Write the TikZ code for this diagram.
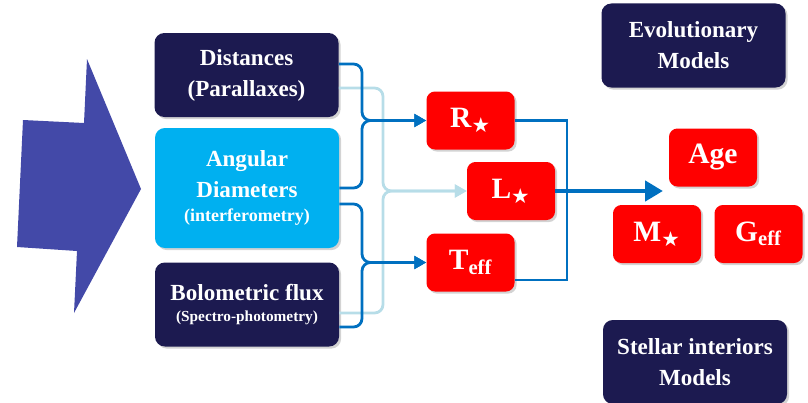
\documentclass[tikz,border=0pt]{standalone}
\usepackage{fontspec}
\setmainfont{Liberation Serif}
\newfontfamily\starfont{DejaVu Sans}
\usetikzlibrary{arrows.meta, positioning, calc, shadows}
\definecolor{navycolor}{RGB}{28,26,80}
\definecolor{cyancolor}{RGB}{0,176,240}
\definecolor{redcolor}{RGB}{255,0,0}
\definecolor{wirecolor}{RGB}{0,112,192}
\definecolor{palecolor}{RGB}{183,221,232}
\definecolor{bigcolor}{RGB}{67,73,168}
\newcommand{\sstar}{\textsubscript{\starfont ★}}

\begin{document}
\begin{tikzpicture}[
    inbox/.style={rectangle, rounded corners=7pt, minimum width=4.6cm, minimum height=2.1cm, align=center, text=white, font=\fontsize{16.4}{22}\selectfont\bfseries, drop shadow={opacity=0.35, shadow xshift=1.5pt, shadow yshift=-1.5pt}},
    outbox/.style={rectangle, rounded corners=6pt, fill=redcolor, minimum width=2.2cm, minimum height=1.45cm, text=white, font=\fontsize{21}{24}\selectfont\bfseries, drop shadow={opacity=0.35, shadow xshift=1.5pt, shadow yshift=-1.5pt}},
    link/.style={wirecolor, line width=2pt, rounded corners=6pt, -{Triangle[length=8.5pt, width=9pt]}},
    palelink/.style={palecolor, line width=2pt, rounded corners=6pt, -{Triangle[length=8.5pt, width=9pt]}},
    wire/.style={wirecolor, line width=2pt},
    bigarrow/.style={wirecolor, line width=3.5pt, -{Triangle[length=12.8pt, width=14.2pt]}}
]
\useasboundingbox (0,0) rectangle (20.2,-10.075);

% big arrow on the left
\fill[bigcolor] (0.575,-3.0) -- (2.1,-3.075) -- (2.175,-1.475) -- (3.525,-4.725)
    -- (1.85,-7.825) -- (1.925,-6.275) -- (0.425,-6.175) -- cycle;

% observations
\node[inbox, fill=navycolor] (dist) at (6.1625,-1.875) {Distances\\(Parallaxes)};
\node[inbox, fill=cyancolor, minimum height=3cm] (ang) at (6.175,-4.7) {Angular\\Diameters\\[-5pt]{\fontsize{12.8}{15}\selectfont(interferometry)}};
\node[inbox, fill=navycolor] (bol) at (6.175,-7.6125) {Bolometric flux\\[-7pt]{\fontsize{10.9}{13}\selectfont(Spectro-photometry)}};

% fundamental parameters
\node[outbox] (R) at (11.7625,-3.0125) {R\sstar};
\node[outbox] (L) at (12.775,-4.775) {L\sstar};
\node[outbox] (T) at (11.7625,-6.5625) {T\textsubscript{eff}};

% models and results
\node[inbox, fill=navycolor] (evo) at (17.3375,-1.1375) {Evolutionary\\Models};
\node[outbox] (age) at (17.825,-3.9375) {Age};
\node[outbox] (mass) at (16.425,-5.85) {M\sstar};
\node[outbox] (grav) at (18.9625,-5.85) {G\textsubscript{eff}};
\node[inbox, fill=navycolor] (intr) at (17.375,-9.05) {Stellar interiors\\Models};

\coordinate (bxa) at (9.05,0);
\coordinate (bxb) at (9.575,0);
\coordinate (bxc) at (14.175,0);
\coordinate (tout) at ([yshift=-0.4375cm]T.east);
\coordinate (tip) at (16.575,-4.775);

% luminosity from distance and flux
\draw[palelink] ([yshift=-0.325cm]dist.east) -| (bxb |- L.west) -- (L.west);
\draw[palelink] ([yshift=-0.2125cm]bol.east) -| (bxb |- L.west) -- (L.west);

% radius
\draw[link] ([yshift=0.275cm]dist.east) -| (bxa |- R.west) -- (R.west);
\draw[link] (ang.east) -| (bxa |- R.west) -- (R.west);

% effective temperature
\draw[link] ([yshift=-0.4cm]ang.east) -| (bxa |- T.west) -- (T.west);
\draw[link] ([yshift=-0.5625cm]bol.east) -| (bxa |- T.west) -- (T.west);

% to the models
\draw[wire] (R.east) -| (bxc |- tout) -- (tout);
\draw[bigarrow] (L.east) -- (tip);
\end{tikzpicture}
\end{document}
